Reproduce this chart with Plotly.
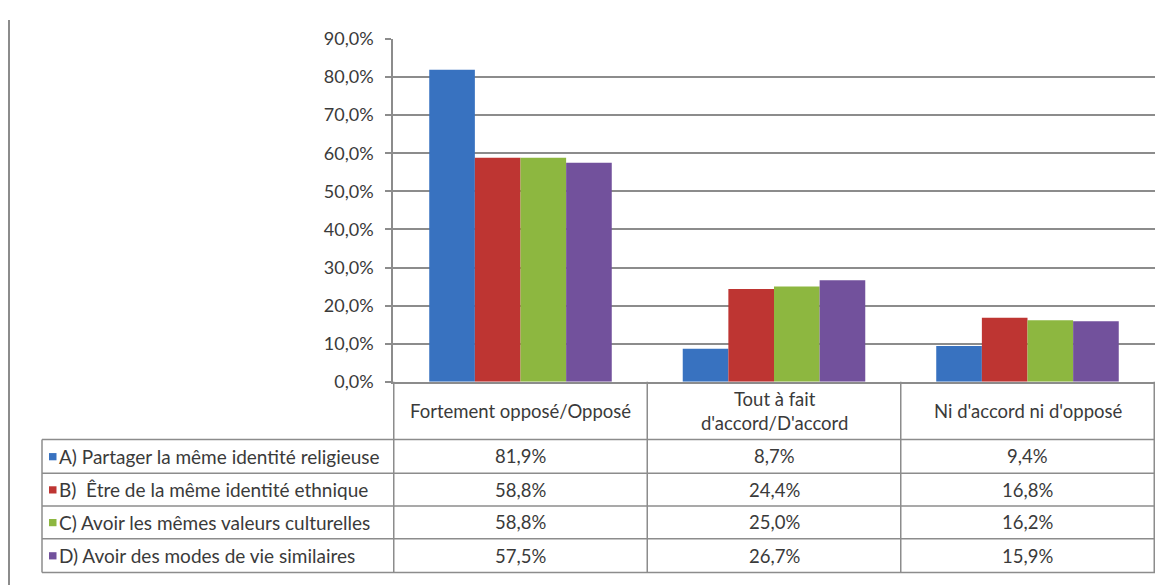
import plotly.graph_objects as go

W, H = 1176, 585
OFF = 8  # page margin of the browser body

categories = ["Fortement opposé/Opposé", "Tout à fait<br>d'accord/D'accord", "Ni d'accord ni d'opposé"]
series_names = [
    "A) Partager la même identité religieuse",
    "B)  Être de la même identité ethnique",
    "C) Avoir les mêmes valeurs culturelles",
    "D) Avoir des modes de vie similaires",
]
values_A = [81.9, 8.7, 9.4]
values_B = [58.8, 24.4, 16.8]
values_C = [58.8, 25.0, 16.2]
values_D = [57.5, 26.7, 15.9]
series_values = [values_A, values_B, values_C, values_D]
colors = ["#3872C0", "#BE3532", "#8DB740", "#72519C"]
y_ticks = [0, 10, 20, 30, 40, 50, 60, 70, 80, 90]

FONT = "Lato"
FS_NAME = 19
FS_CELL = 18.5
FS_TICK = 18
TXT = "#3a3a3a"
GRID = "#8c8c8c"


def px_x(p):
    return (p - OFF) / W


def px_y(p):
    return 1 - (p - OFF) / H


def fmt(v):
    return f"{v:.1f}".replace(".", ",") + "%"


fig = go.Figure()
for name, vals, col in zip(series_names, series_values, colors):
    fig.add_trace(go.Bar(
        x=categories, y=[v / 100 for v in vals], name=name,
        marker=dict(color=col, line=dict(width=0)),
    ))

shapes = []
annotations = []

header_top, header_bot = 384, 444
row_edges = [444, 479, 513, 547, 582]
left_px = 42
right_px = 1155

line = dict(color=GRID, width=1.5)

for b in [-0.5, 0.5, 1.5, 2.5]:
    shapes.append(dict(type="line", xref="x", yref="paper", x0=b, x1=b,
                       y0=px_y(header_top), y1=px_y(row_edges[-1]), line=line))
for r in row_edges:
    shapes.append(dict(type="line", xref="paper", yref="paper",
                       x0=px_x(left_px), x1=px_x(right_px), y0=px_y(r), y1=px_y(r), line=line))
shapes.append(dict(type="line", xref="paper", yref="paper", x0=px_x(left_px), x1=px_x(left_px),
                   y0=px_y(row_edges[0]), y1=px_y(row_edges[-1]), line=line))
shapes.append(dict(type="line", xref="paper", yref="paper", x0=px_x(9), x1=px_x(9),
                   y0=px_y(8), y1=px_y(600), line=dict(color="#8c8c8c", width=2)))

for c in categories:
    annotations.append(dict(xref="x", yref="paper", x=c, y=px_y((header_top + header_bot) / 2),
                            text=c, showarrow=False, xanchor="center", yanchor="middle",
                            font=dict(family=FONT, size=FS_CELL, color=TXT)))

for i, (name, vals, col) in enumerate(zip(series_names, series_values, colors)):
    top, bot = row_edges[i], row_edges[i + 1]
    cy = (top + bot) / 2
    shapes.append(dict(type="rect", xref="paper", yref="paper",
                       x0=px_x(49), x1=px_x(56.5), y0=px_y(cy - 3.5), y1=px_y(cy + 4),
                       fillcolor=col, line=dict(width=0)))
    annotations.append(dict(xref="paper", yref="paper", x=px_x(57), y=px_y(cy),
                            text=name, showarrow=False, xanchor="left", yanchor="middle",
                            font=dict(family=FONT, size=FS_NAME, color=TXT)))
    for c, v in zip(categories, vals):
        annotations.append(dict(xref="x", yref="paper", x=c, y=px_y(cy),
                                text=fmt(v), showarrow=False, xanchor="center", yanchor="middle",
                                font=dict(family=FONT, size=FS_CELL, color=TXT)))

fig.update_layout(
    width=W, height=H, autosize=False,
    margin=dict(l=0, r=0, t=0, b=0),
    paper_bgcolor="white", plot_bgcolor="white",
    separators=", ",
    barmode="group", bargap=0.28, bargroupgap=0,
    showlegend=False,
    shapes=shapes, annotations=annotations,
    xaxis=dict(domain=[px_x(393), px_x(right_px)], showticklabels=False, showgrid=False,
               showline=True, linecolor=GRID, linewidth=1.5, ticks="", zeroline=False),
    yaxis=dict(domain=[px_y(384), px_y(27.7)], range=[0, 0.9], tickvals=[t / 100 for t in y_ticks],
               tickformat=".1%", showgrid=True, gridcolor=GRID, gridwidth=1.5,
               showline=True, linecolor=GRID, linewidth=1.5, ticks="outside", ticklen=6,
               tickcolor=GRID, tickwidth=1.5, zeroline=False, ticklabelstandoff=8,
               tickfont=dict(family=FONT, size=FS_TICK, color=TXT)),
)

fig.write_html("out.html")
